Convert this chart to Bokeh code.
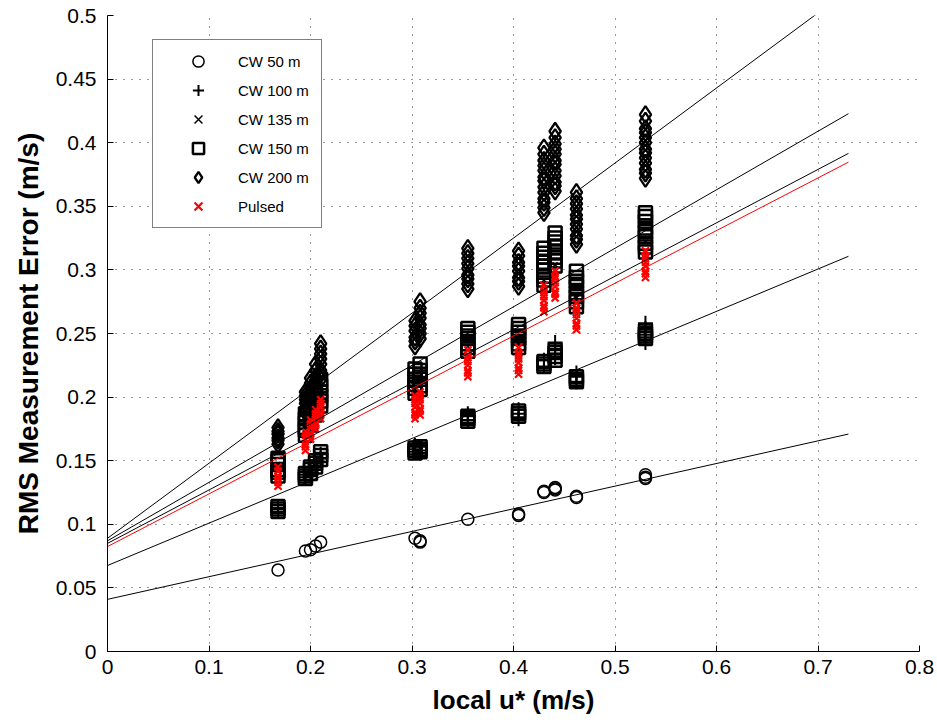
import numpy as np
from bokeh.plotting import figure
from bokeh.models import Range1d, Legend, LegendItem, FixedTicker
from bokeh.embed import file_html
from bokeh.resources import INLINE

# ---------------- data ----------------
u_pos = [0.168, 0.195, 0.200, 0.205, 0.210, 0.303, 0.308, 0.355, 0.405, 0.430, 0.441, 0.462, 0.530]

cw50_err = [[0.064], [0.079], [0.080], [0.083], [0.086], [0.089], [0.087, 0.086],
            [0.104], [0.107, 0.108], [0.125, 0.126], [0.127, 0.128, 0.129], [0.121, 0.122], [0.136, 0.137, 0.139]]

cw100_err = [[0.110, 0.112, 0.113],
             [0.137, 0.139],
             [0.141, 0.143],
             [0.146, 0.148],
             [0.152, 0.155],
             [0.157, 0.159, 0.162],
             [0.158, 0.161],
             [0.182, 0.185, 0.187],
             [0.183, 0.187, 0.190],
             [0.224, 0.229],
             [0.231, 0.234, 0.238, 0.243],
             [0.212, 0.216, 0.219],
             [0.243, 0.249, 0.254, 0.258]]

cw135_err = [[0.142, 0.147], [0.170, 0.176], [0.178, 0.186], [0.186, 0.194], [0.194, 0.202],
             [0.198, 0.206], [0.202, 0.210], [0.232, 0.240], [0.232, 0.242],
             [0.284, 0.292], [0.296, 0.304], [0.270, 0.278], [0.314, 0.322]]

cw150_err = [[0.110, 0.112, 0.114, 0.138, 0.141, 0.143, 0.147, 0.150, 0.152],
             [0.136, 0.138, 0.140, 0.170, 0.174, 0.176, 0.180, 0.183, 0.187],
             [0.140, 0.143, 0.145, 0.178, 0.181, 0.186, 0.190, 0.193, 0.198],
             [0.145, 0.148, 0.150, 0.186, 0.189, 0.194, 0.198, 0.201, 0.206],
             [0.151, 0.154, 0.157, 0.193, 0.197, 0.201, 0.204, 0.209, 0.214],
             [0.156, 0.158, 0.160, 0.203, 0.207, 0.210, 0.214, 0.218, 0.222],
             [0.157, 0.159, 0.161, 0.206, 0.209, 0.214, 0.218, 0.221, 0.226],
             [0.181, 0.183, 0.185, 0.236, 0.239, 0.242, 0.246, 0.248, 0.251, 0.254],
             [0.185, 0.187, 0.189, 0.239, 0.242, 0.246, 0.248, 0.251, 0.254, 0.257],
             [0.224, 0.226, 0.228, 0.288, 0.292, 0.295, 0.300, 0.303, 0.306, 0.310, 0.313, 0.317],
             [0.229, 0.232, 0.235, 0.237, 0.303, 0.307, 0.310, 0.314, 0.318, 0.322, 0.325, 0.329],
             [0.212, 0.214, 0.216, 0.271, 0.275, 0.279, 0.282, 0.287, 0.291, 0.294, 0.299],
             [0.246, 0.248, 0.250, 0.252, 0.314, 0.318, 0.321, 0.326, 0.330, 0.333, 0.338, 0.342, 0.345]]

cw200_err = [[0.163, 0.166, 0.168, 0.171, 0.173, 0.176],
             [0.188, 0.191, 0.195, 0.198, 0.201, 0.204],
             [0.196, 0.200, 0.203, 0.207, 0.211, 0.215],
             [0.205, 0.209, 0.213, 0.216, 0.221, 0.226],
             [0.214, 0.218, 0.221, 0.226, 0.230, 0.234, 0.238, 0.242],
             [0.240, 0.244, 0.247, 0.252, 0.256, 0.260],
             [0.246, 0.250, 0.254, 0.257, 0.262, 0.266, 0.270, 0.275],
             [0.285, 0.289, 0.293, 0.296, 0.301, 0.305, 0.309, 0.313, 0.317],
             [0.287, 0.291, 0.294, 0.299, 0.303, 0.306, 0.311, 0.315],
             [0.345, 0.349, 0.353, 0.356, 0.361, 0.365, 0.370, 0.373, 0.378, 0.382, 0.386, 0.391, 0.396],
             [0.362, 0.366, 0.369, 0.374, 0.378, 0.383, 0.386, 0.391, 0.395, 0.399, 0.404, 0.409],
             [0.320, 0.324, 0.327, 0.332, 0.336, 0.340, 0.343, 0.348, 0.352, 0.356, 0.361],
             [0.372, 0.376, 0.379, 0.384, 0.388, 0.392, 0.395, 0.400, 0.404, 0.408, 0.411, 0.417, 0.422]]

pulsed_err = [[0.130, 0.133, 0.136, 0.138, 0.142, 0.145],
              [0.158, 0.161, 0.163, 0.167, 0.170, 0.173],
              [0.167, 0.170, 0.172, 0.176, 0.179, 0.182],
              [0.175, 0.178, 0.180, 0.184, 0.187, 0.190],
              [0.183, 0.186, 0.188, 0.192, 0.195, 0.198],
              [0.183, 0.186, 0.188, 0.192, 0.195, 0.198, 0.201],
              [0.186, 0.189, 0.191, 0.195, 0.198, 0.201, 0.204],
              [0.216, 0.219, 0.221, 0.225, 0.228, 0.231, 0.233, 0.237],
              [0.218, 0.221, 0.223, 0.227, 0.230, 0.233, 0.235, 0.239],
              [0.267, 0.270, 0.272, 0.276, 0.279, 0.282, 0.284, 0.288],
              [0.278, 0.281, 0.283, 0.287, 0.290, 0.293, 0.295, 0.299],
              [0.253, 0.256, 0.258, 0.262, 0.265, 0.268, 0.270, 0.274],
              [0.294, 0.297, 0.299, 0.303, 0.306, 0.309, 0.311, 0.315]]

# linear fits: intercept, slope (CW 50, 100, 135, 150, 200, Pulsed)
fit_names = ["CW 50 m", "CW 100 m", "CW 135 m", "CW 150 m", "CW 200 m", "Pulsed"]
fit_intercept = [0.041, 0.0676, 0.085, 0.087, 0.089, 0.0825]
fit_slope = [0.178, 0.333, 0.420, 0.460, 0.590, 0.414]
fit_x_end = 0.73

x_ticks = [0, 0.1, 0.2, 0.3, 0.4, 0.5, 0.6, 0.7, 0.8]
x_tick_labels = ["0", "0.1", "0.2", "0.3", "0.4", "0.5", "0.6", "0.7", "0.8"]
y_ticks = [0, 0.05, 0.1, 0.15, 0.2, 0.25, 0.3, 0.35, 0.4, 0.45, 0.5]
y_tick_labels = ["0", "0.05", "0.1", "0.15", "0.2", "0.25", "0.3", "0.35", "0.4", "0.45", "0.5"]


def expand(groups):
    xs, ys = [], []
    for u, vals in zip(u_pos, groups):
        for v in vals:
            xs.append(u)
            ys.append(v)
    return xs, ys


FONT = "Liberation Sans"

p = figure(frame_width=812, frame_height=636,
           min_border_left=107, min_border_right=18, min_border_top=15, min_border_bottom=74,
           x_range=Range1d(0, 0.8), y_range=Range1d(0, 0.5),
           output_backend="svg", toolbar_location=None,
           background_fill_color="white", border_fill_color="white")
p.outline_line_color = None

# axes
for ax, ticks, labels in ((p.xaxis[0], x_ticks, x_tick_labels), (p.yaxis[0], y_ticks, y_tick_labels)):
    ax.ticker = FixedTicker(ticks=ticks)
    ax.major_label_overrides = {t: l for t, l in zip(ticks, labels)}
    ax.major_tick_in = 6
    ax.major_tick_out = 0
    ax.minor_tick_in = 0
    ax.minor_tick_out = 0
    ax.axis_line_color = "black"
    ax.major_tick_line_color = "black"
    ax.major_label_text_font = FONT
    ax.major_label_text_font_size = "21px"
    ax.major_label_text_color = "black"
    ax.axis_label_text_font = FONT
    ax.axis_label_text_font_style = "bold"
    ax.axis_label_text_font_size = "26px"
    ax.axis_label_text_color = "black"

p.xaxis.axis_label = "local u* (m/s)"
p.yaxis.axis_label = "RMS Measurement Error (m/s)"
p.yaxis.axis_label_text_font_size = "28px"
p.xaxis.major_label_standoff = 8
p.yaxis.major_label_standoff = 11
p.xaxis.axis_label_standoff = 8
p.yaxis.axis_label_standoff = 9

p.grid.grid_line_color = "black"
p.grid.grid_line_dash = "1 7"
p.grid.grid_line_alpha = 0.8
p.grid.grid_line_width = 1

# scatter series
x, y = expand(cw50_err)
r50 = p.scatter(x, y, marker="circle", size=12, fill_color=None, line_color="black", line_width=1.5)
x, y = expand(cw100_err)
r100 = p.scatter(x, y, marker="cross", size=15, line_color="black", line_width=2)
x, y = expand(cw135_err)
r135 = p.scatter(x, y, marker="x", size=7, line_color="black", line_width=1.5)
x, y = expand(cw150_err)
r150 = p.scatter(x, y, marker="square", size=13, fill_color=None, line_color="black", line_width=2.5)
x, y = expand(cw200_err)
r200 = p.scatter(x, y, marker="diamond", size=17, fill_color=None, line_color="black", line_width=2.3)
x, y = expand(pulsed_err)
rp = p.scatter(x, y, marker="x", size=10, line_color="#ff0000", line_width=2.2)

# fit lines
for name, b, m in zip(fit_names, fit_intercept, fit_slope):
    xs = np.array([0.0, fit_x_end])
    col = "#ff0000" if name == "Pulsed" else "black"
    p.line(xs, b + m * xs, line_color=col, line_width=1)

legend = Legend(items=[
    LegendItem(label="CW 50 m", renderers=[r50]),
    LegendItem(label="CW 100 m", renderers=[r100]),
    LegendItem(label="CW 135 m", renderers=[r135]),
    LegendItem(label="CW 150 m", renderers=[r150]),
    LegendItem(label="CW 200 m", renderers=[r200]),
    LegendItem(label="Pulsed", renderers=[rp]),
], location=(45, 423))
legend.border_line_color = "black"
legend.border_line_width = 1
legend.background_fill_color = "white"
legend.background_fill_alpha = 1
legend.label_text_font = FONT
legend.label_text_font_size = "15px"
legend.label_text_color = "black"
legend.padding = 7
legend.spacing = 1
legend.label_height = 28
legend.glyph_height = 28
legend.glyph_width = 76
legend.label_standoff = 2
legend.label_width = 76
legend.margin = 0
p.add_layout(legend)

open("out.html", "w").write(file_html(p, INLINE))
